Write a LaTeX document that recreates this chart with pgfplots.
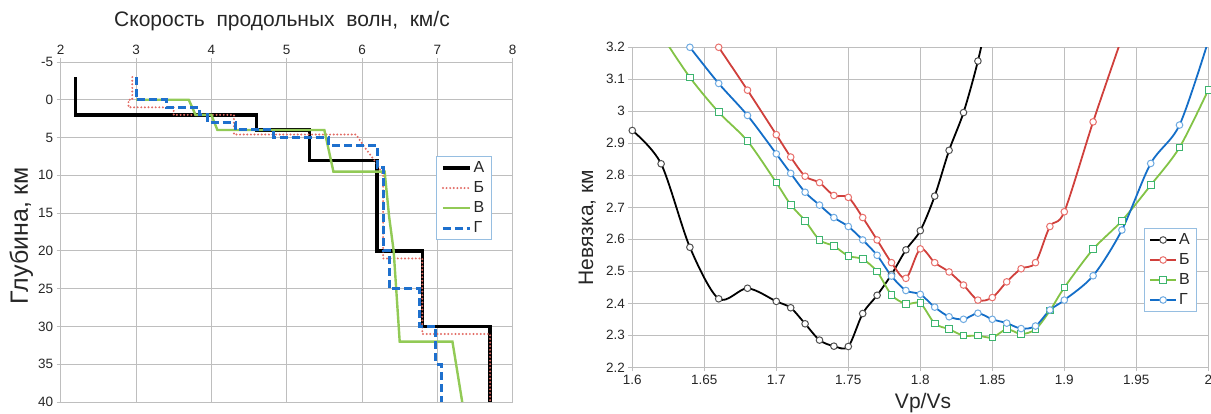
\documentclass[border=0pt]{standalone}
\usepackage{fontspec}
\setmainfont{Liberation Sans}
\usepackage{pgfplots}
\usepackage{pgfplotstable}
\pgfplotsset{compat=1.18}

\definecolor{gridc}{RGB}{190,190,190}
\definecolor{lred}{RGB}{226,107,100}
\definecolor{lgreen}{RGB}{146,202,86}
\definecolor{lblue}{RGB}{30,112,205}
\definecolor{rred}{RGB}{208,64,60}
\definecolor{rredm}{RGB}{232,112,108}
\definecolor{rgreen}{RGB}{130,195,70}
\definecolor{rgreenm}{RGB}{60,180,110}
\definecolor{rblue}{RGB}{20,110,200}
\definecolor{rbluem}{RGB}{110,170,225}
\definecolor{rblackm}{RGB}{80,80,80}
\definecolor{legborder}{RGB}{150,190,225}

% left chart: velocity profiles (x = velocity, y = depth)
\pgfplotstableread{
x y
2.2 -3
2.2 2
4.6 2
4.6 4
5.3 4
5.3 8
6.2 8
6.2 20
6.8 20
6.8 30
7.7 30
7.7 40
}\LA
\pgfplotstableread{
x y
2.95 -3
2.95 0
2.9 0
2.9 1
3.5 1
3.5 2
4.3 2
4.3 4.6
5.92 4.6
6.05 6.5
6.2 8.5
6.28 10
6.28 21
6.8 21
6.8 31
7.7 31
7.7 40
}\LB
\pgfplotstableread{
x y
3.0 0
3.7 0
3.79 2
4.0 2
4.08 4
5.5 4
5.62 9.5
6.3 9.5
6.36 15.5
6.42 20
6.5 32
7.2 32
7.33 40
}\LV
\pgfplotstableread{
x y
3.0 -3
3.0 0
3.4 0
3.4 1
3.84 1
3.84 2
3.95 2
3.95 3
4.32 3
4.32 4
4.83 4
4.83 5
5.55 5
5.55 6
6.2 6
6.2 9
6.28 9
6.28 20
6.36 20
6.36 25
6.76 25
6.76 30
6.98 30
6.98 35
7.05 35
7.05 40
}\LG

% right chart: misfit vs Vp/Vs
\pgfplotstableread{
x y
1.60 2.940
1.62 2.836
1.64 2.575
1.66 2.414
1.68 2.447
1.70 2.406
1.71 2.386
1.72 2.336
1.73 2.285
1.74 2.266
1.75 2.265
1.76 2.368
1.77 2.425
1.78 2.490
1.79 2.567
1.80 2.627
1.81 2.735
1.82 2.878
1.83 2.996
1.84 3.157
1.85 3.360
}\RA
\pgfplotstableread{
x y
1.66 3.200
1.68 3.066
1.70 2.927
1.71 2.857
1.72 2.797
1.73 2.777
1.74 2.737
1.75 2.731
1.76 2.668
1.77 2.598
1.78 2.527
1.79 2.478
1.80 2.570
1.81 2.527
1.82 2.498
1.83 2.457
1.84 2.410
1.85 2.418
1.86 2.467
1.87 2.508
1.88 2.527
1.89 2.640
1.90 2.686
1.92 2.967
1.94 3.230
}\RB
\pgfplotstableread{
x y
1.62 3.240
1.64 3.106
1.66 2.997
1.68 2.907
1.70 2.777
1.71 2.708
1.72 2.658
1.73 2.598
1.74 2.579
1.75 2.548
1.76 2.538
1.77 2.499
1.78 2.426
1.79 2.398
1.80 2.400
1.81 2.337
1.82 2.319
1.83 2.299
1.84 2.299
1.85 2.293
1.86 2.319
1.87 2.304
1.88 2.319
1.89 2.377
1.90 2.449
1.92 2.569
1.94 2.658
1.96 2.769
1.98 2.887
2.00 3.067
}\RV
\pgfplotstableread{
x y
1.64 3.200
1.66 3.087
1.68 2.987
1.70 2.867
1.71 2.806
1.72 2.747
1.73 2.707
1.74 2.668
1.75 2.640
1.76 2.598
1.77 2.550
1.78 2.485
1.79 2.440
1.80 2.428
1.81 2.388
1.82 2.358
1.83 2.350
1.84 2.369
1.85 2.350
1.86 2.338
1.87 2.321
1.88 2.329
1.89 2.379
1.90 2.410
1.92 2.486
1.94 2.629
1.96 2.837
1.98 2.957
2.00 3.220
}\RG

\pgfplotsset{
  excel/.style={
    scale only axis,
    grid=major,
    grid style={gridc, line width=0.9pt},
    axis line style={gridc, line width=0.9pt},
    tick align=outside,
    major tick length=4pt,
    tick style={gridc, line width=0.9pt},
    ticklabel style={font=\fontsize{13.5}{15}\selectfont, text=black!85},
    /pgf/number format/assume math mode=true,
    legend cell align=left,
  },
  mk/.style={mark size=3.3pt, mark options={draw=#1, fill=white, line width=1pt}},
}

\begin{document}
\begin{tikzpicture}[x=1pt,y=1pt]
\useasboundingbox (0,0) rectangle (1211,414);

\begin{axis}[excel,
  at={(60.7pt,12pt)}, anchor=south west,
  width=452pt, height=340pt,
  xmin=2, xmax=8, ymin=-5, ymax=40,
  y dir=reverse,
  xtick={2,3,4,5,6,7,8},
  ytick={-5,0,5,10,15,20,25,30,35,40},
  xtick pos=upper, xticklabel pos=upper,
  ytick pos=left,
  legend style={at={(0.83,0.724)}, anchor=north west,
    draw=legborder, line width=0.9pt, fill=white,
    font=\fontsize{16}{18}\selectfont, text=black!85,
    inner xsep=5pt, inner ysep=3.5pt, row sep=3.5pt},
  legend image code/.code={\draw[#1] (0pt,0pt) -- (27pt,0pt);},
]
\addplot[black, line width=3.3pt] table {\LA};
\addlegendentry{А}
\addplot[lred, line width=2.2pt, line cap=round, dash pattern=on 0pt off 3.6pt] table {\LB};
\addlegendentry{Б}
\addplot[lgreen, line width=2.4pt] table {\LV};
\addlegendentry{В}
\addplot[lblue, line width=3pt, dash pattern=on 8pt off 4pt] table {\LG};
\addlegendentry{Г}
\end{axis}

\begin{axis}[excel,
  at={(632.3pt,46.7pt)}, anchor=south west,
  width=576pt, height=320pt,
  xmin=1.6, xmax=2, ymin=2.2, ymax=3.2,
  xtick={1.6,1.65,1.7,1.75,1.8,1.85,1.9,1.95,2},
  ytick={2.2,2.3,2.4,2.5,2.6,2.7,2.8,2.9,3,3.1,3.2},
  xtick pos=lower, ytick pos=left,
  legend style={at={(0.888,0.436)}, anchor=north west,
    draw=legborder, line width=0.9pt, fill=white,
    font=\fontsize{16}{18}\selectfont, text=black!85,
    inner xsep=5pt, inner ysep=3.5pt, row sep=3.5pt},
  legend image code/.code={\draw[#1] (0pt,0pt) -- (26pt,0pt); \draw[#1] plot coordinates {(13pt,0pt)};},
]
% A
\addplot[black, line width=1.8pt, smooth, forget plot] table {\RA};
\addplot[only marks, mark=*, mk=rblackm, restrict y to domain=2.1:3.205, forget plot] table {\RA};
% B
\addplot[rred, line width=1.8pt, smooth, forget plot] table {\RB};
\addplot[only marks, mark=*, mk=rredm, restrict y to domain=2.1:3.205, forget plot] table {\RB};
% V
\addplot[rgreen, line width=1.8pt, smooth, forget plot] table {\RV};
\addplot[only marks, mark=square*, mk=rgreenm, restrict y to domain=2.1:3.205, forget plot] table {\RV};
% G
\addplot[rblue, line width=1.8pt, smooth, forget plot] table {\RG};
\addplot[only marks, mark=*, mk=rbluem, restrict y to domain=2.1:3.205, forget plot] table {\RG};

\addlegendimage{black, line width=1.8pt, mark=*, mk=rblackm}
\addlegendentry{А}
\addlegendimage{rred, line width=1.8pt, mark=*, mk=rredm}
\addlegendentry{Б}
\addlegendimage{rgreen, line width=1.8pt, mark=square*, mk=rgreenm}
\addlegendentry{В}
\addlegendimage{rblue, line width=1.8pt, mark=*, mk=rbluem}
\addlegendentry{Г}
\end{axis}

% titles and axis labels
\node[anchor=base, font=\fontsize{21}{24}\selectfont, text=black!85, inner sep=0pt]
  at (282,387) {Скорость~~продольных~~волн,~~км/с};
\node[anchor=base, rotate=90, font=\fontsize{25}{28}\selectfont, text=black!85, inner sep=0pt]
  at (28,178.3) {Глубина, км};
\node[anchor=base, rotate=90, font=\fontsize{21}{24}\selectfont, text=black!85, inner sep=0pt]
  at (593,186.5) {Невязка, км};
\node[anchor=base, font=\fontsize{21}{24}\selectfont, text=black!85, inner sep=0pt]
  at (923,5) {Vp/Vs};
\end{tikzpicture}
\end{document}
